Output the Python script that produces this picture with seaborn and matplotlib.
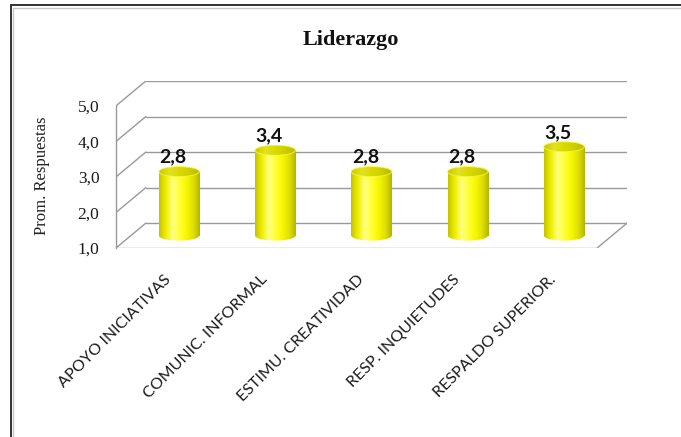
import numpy as np
import pandas as pd
import matplotlib
matplotlib.use("Agg")
import matplotlib.pyplot as plt
import matplotlib.transforms as mtransforms
from matplotlib.patches import Ellipse
from matplotlib.lines import Line2D
from matplotlib.colors import LinearSegmentedColormap
import seaborn as sns

# data
categories = ["APOYO INICIATIVAS", "COMUNIC. INFORMAL", "ESTIMU. CREATIVIDAD",
              "RESP. INQUIETUDES", "RESPALDO SUPERIOR."]
values = [2.8, 3.4, 2.8, 2.8, 3.5]
value_labels = ["2,8", "3,4", "2,8", "2,8", "3,5"]
y_ticks = [1, 2, 3, 4, 5]
y_tick_labels = ["1,0", "2,0", "3,0", "4,0", "5,0"]
title = "Liderazgo"
y_label = "Prom. Respuestas"

W, H = 681, 437
DX, DY = 0.31, 0.70      # depth of the fake 3D box (data units)
BAR_W = 0.42
CAP_H = 0.28
GRID = "#999999"

sns.set_theme(style="white")
plt.rcParams["font.family"] = ["Lato", "DejaVu Sans"]

fig = plt.figure(figsize=(W / 100, H / 100), dpi=100)
ax = fig.add_axes([116 / W, 1 - 248 / H, 511 / W, 167 / H])

df = pd.DataFrame({"cat": categories, "val": values})
sns.barplot(data=df, x="cat", y="val", width=BAR_W, color="yellow",
            saturation=1, errorbar=None, ax=ax, zorder=3)

# back wall gridlines, side wall and floor
lo = -0.5
hi = len(categories) - 0.5
for t in y_ticks:
    ax.plot([lo + DX, hi + DX], [t + DY, t + DY], color=GRID, lw=1.0, zorder=1)
    ax.plot([lo, lo + DX], [t, t + DY], color=GRID, lw=1.0, zorder=1)
ax.plot([lo, hi], [y_ticks[0], y_ticks[0]], color=GRID, lw=1.0, zorder=1)
ax.plot([hi, hi + DX], [y_ticks[0], y_ticks[0] + DY], color=GRID, lw=1.0, zorder=1)

# cylinders: shift seaborn's bars to mid depth and shade them
body_cmap = LinearSegmentedColormap.from_list(
    "body", ["#c4c400", "#eeee00", "#ffff80", "#ffff38", "#f8f800", "#e0e000", "#b4b400"])
top_cmap = LinearSegmentedColormap.from_list(
    "top", ["#c8c800", "#e2e220", "#dada00", "#cdcd00", "#baba00"])
grad = np.linspace(0, 1, 256).reshape(1, -1)

bars = list(ax.patches)
for patch, v in zip(bars, values):
    x0 = patch.get_x() + DX / 2
    y0 = y_ticks[0] + DY / 2
    patch.set_x(x0)
    patch.set_y(y0)
    patch.set_height(v - y_ticks[0])
    patch.set_facecolor("none")
    patch.set_edgecolor("none")
    cx = x0 + BAR_W / 2
    base = Ellipse((cx, y0), BAR_W, CAP_H, facecolor="none", edgecolor="none")
    ax.add_patch(base)
    for clip in (patch, base):
        im = ax.imshow(grad, cmap=body_cmap, aspect="auto", interpolation="bilinear",
                       extent=[x0, x0 + BAR_W, y0 - CAP_H, v + DY / 2], zorder=3)
        im.set_clip_path(clip)
    top = Ellipse((cx, v + DY / 2), BAR_W, CAP_H, facecolor="none",
                  edgecolor="#f6f640", lw=0.6, zorder=5)
    ax.add_patch(top)
    im = ax.imshow(grad, cmap=top_cmap, aspect="auto", interpolation="bilinear",
                   extent=[x0, x0 + BAR_W, v + DY / 2 - CAP_H / 2, v + DY / 2 + CAP_H / 2],
                   zorder=4)
    im.set_clip_path(top)

for i, (v, lab) in enumerate(zip(values, value_labels)):
    ax.text(i + 0.094, v + 0.6, lab, ha="center", va="baseline",
            fontsize=14, fontweight="bold", color="#111111", zorder=6)

ax.set_xlim(lo, hi + DX)
ax.set_ylim(y_ticks[0], y_ticks[-1] + DY)

for side in ["top", "right", "bottom"]:
    ax.spines[side].set_visible(False)
ax.spines["left"].set_bounds(y_ticks[0], y_ticks[-1])
ax.spines["left"].set_color(GRID)
ax.spines["left"].set_linewidth(1.0)

ax.set_yticks(y_ticks, y_tick_labels)
ax.tick_params(axis="y", length=0, pad=12)
for lbl in ax.get_yticklabels():
    lbl.set_fontfamily("Liberation Serif")
    lbl.set_fontsize(12.5)
    lbl.set_color("#1a1a1a")

ax.set_xticks(range(len(categories)), categories)
ax.tick_params(axis="x", length=0, pad=21)
shift = mtransforms.ScaledTranslation(5 / 100, 0, fig.dpi_scale_trans)
for lbl in ax.get_xticklabels():
    lbl.set_rotation(45)
    lbl.set_ha("right")
    lbl.set_va("center")
    lbl.set_rotation_mode("anchor")
    lbl.set_fontsize(11.5)
    lbl.set_color("#1a1a1a")
    lbl.set_transform(lbl.get_transform() + shift)

ax.set_xlabel("")
ax.set_ylabel(y_label, fontfamily="Liberation Serif", fontsize=12, color="#222222")
ax.yaxis.set_label_coords((50 - 116) / 511, (248 - 176) / 167)
ax.patch.set_alpha(0)

fig.text(351 / W, 1 - 45 / H, title, ha="center", va="baseline", fontsize=16,
         fontweight="bold", family="Liberation Serif", color="#111111")

# outer frame (left and top edges are the only ones inside the picture)
bx, by = 10.5 / W, 1 - 5 / H
fig.add_artist(Line2D([bx, bx], [0, by], transform=fig.transFigure, color="#333333", lw=1.4))
fig.add_artist(Line2D([bx, 1], [by, by], transform=fig.transFigure, color="#333333", lw=1.4))
bx2, by2 = 13 / W, 1 - 7.5 / H
fig.add_artist(Line2D([bx2, bx2], [0, by2], transform=fig.transFigure, color="#c8c8c8", lw=1.0))
fig.add_artist(Line2D([bx2, 1], [by2, by2], transform=fig.transFigure, color="#c8c8c8", lw=1.0))

fig.savefig("out.png", dpi=100)
